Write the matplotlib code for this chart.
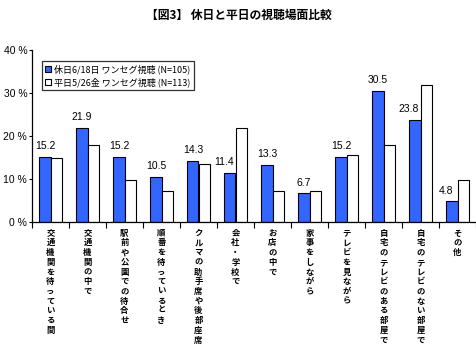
import matplotlib
matplotlib.use("Agg")
import matplotlib.pyplot as plt
import numpy as np

plt.rcParams["font.family"] = ["Noto Sans CJK JP", "DejaVu Sans"]

title = "【図3】 休日と平日の視聴場面比較"
categories = [
    "交通機関を待っている間",
    "交通機関の中で",
    "駅前や公園での待合せ",
    "順番を待っているとき",
    "クルマの助手席や後部座席",
    "会社・学校で",
    "お店の中で",
    "家事をしながら",
    "テレビを見ながら",
    "自宅のテレビのある部屋で",
    "自宅のテレビのない部屋で",
    "その他",
]
holiday = [15.2, 21.9, 15.2, 10.5, 14.3, 11.4, 13.3, 6.7, 15.2, 30.5, 23.8, 4.8]
weekday = [15.0, 17.8, 9.8, 7.3, 13.4, 21.9, 7.2, 7.1, 15.5, 17.8, 31.8, 9.8]
series_names = ["休日6/18日 ワンセグ視聴 (N=105)", "平日5/26金 ワンセグ視聴 (N=113)"]
yticks = [0, 10, 20, 30, 40]

fig = plt.figure(figsize=(4.77, 3.46), dpi=100)
ax = fig.add_axes([32 / 477, 1 - 222 / 346, 444 / 477, 172 / 346])

x = np.arange(len(categories)) + 0.5
w = 0.3
ax.bar(x - w / 2, holiday, w, color="#3366ff", edgecolor="black", linewidth=0.8,
       label=series_names[0])
ax.bar(x + w / 2, weekday, w, color="white", edgecolor="black", linewidth=0.8,
       label=series_names[1])

for xi, v, other in zip(x - w / 2, holiday, weekday):
    # nudge the label left when the neighbouring white bar is taller
    dx = -4.5 if other > v + 2 else 0
    ax.annotate(f"{v:.1f}", (xi, v), xytext=(dx, 4), textcoords="offset points",
                ha="center", va="bottom", fontsize=7.5, family="Liberation Sans")

# vertical category labels, one character per line
for xi, name in zip(x, categories):
    for j, ch in enumerate(name):
        ax.annotate(ch, (xi, 0), xycoords=("data", "axes fraction"),
                    xytext=(0, -8 - 7.0 * j), textcoords="offset points",
                    ha="center", va="center", fontsize=6, fontweight="bold",
                    annotation_clip=False)

ax.set_xlim(0, len(categories))
ax.set_ylim(0, 40)
ax.set_yticks(yticks)
ax.set_yticklabels([f"{t} %" for t in yticks], family="Liberation Sans", fontsize=7.5)
ax.set_xticks(np.arange(len(categories) + 1))
ax.set_xticklabels([])
ax.tick_params(axis="y", direction="out", length=2, width=0.8, pad=1.5)
ax.tick_params(axis="x", direction="out", length=4, width=0.8)
for s in ("top", "right"):
    ax.spines[s].set_visible(False)
for s in ("left", "bottom"):
    ax.spines[s].set_linewidth(0.9)

leg = ax.legend(loc="upper left", bbox_to_anchor=(42 / 477, 1 - 61 / 346),
                bbox_transform=fig.transFigure, fontsize=6.5, frameon=True,
                fancybox=False, edgecolor="black", handlelength=0.7,
                handleheight=0.7, handletextpad=0.3, borderpad=0.35,
                labelspacing=0.4, borderaxespad=0)
leg.get_frame().set_linewidth(0.9)

fig.text(0.5, 1 - 15 / 346, title, ha="center", va="center", fontsize=8.5,
         fontweight="bold")

fig.savefig("out.png", dpi=100)
